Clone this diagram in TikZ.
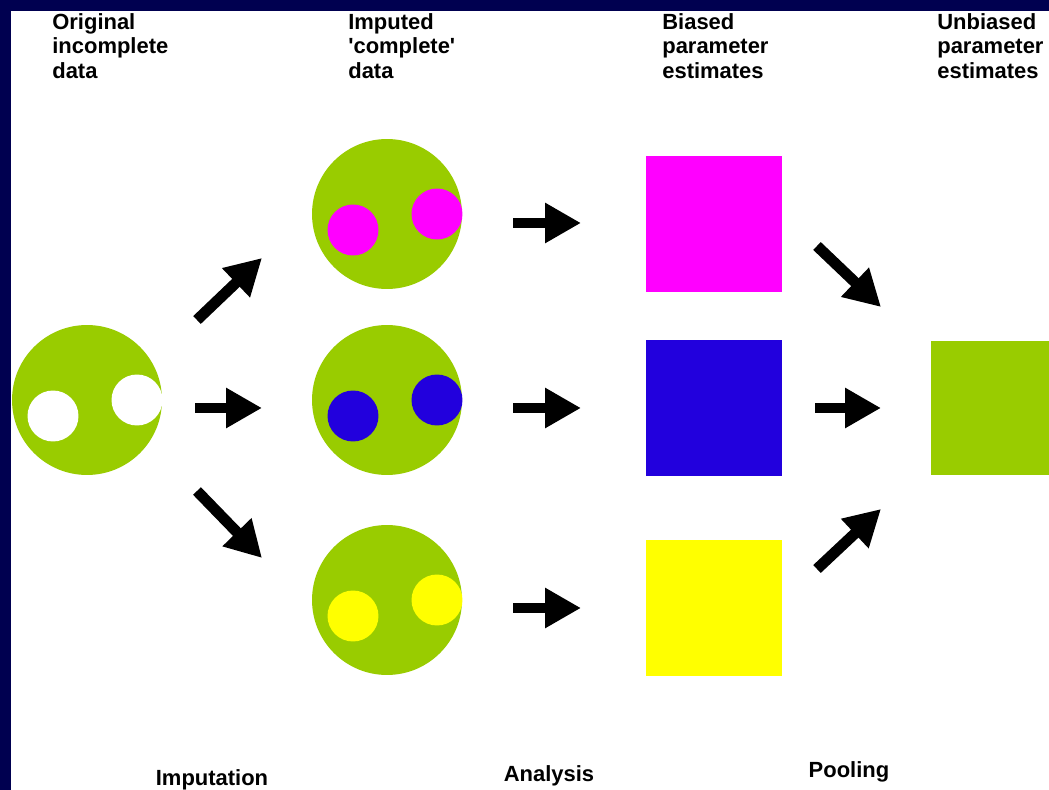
\documentclass[tikz,border=0pt]{standalone}
\usepackage{fontspec}
\setmainfont{Liberation Sans}
\usetikzlibrary{arrows.meta}
\definecolor{leaf}{HTML}{99CC00}
\definecolor{navyband}{HTML}{000050}
\definecolor{estpink}{HTML}{FF00FF}
\definecolor{estblue}{HTML}{2200DD}
\definecolor{estyellow}{HTML}{FFFF00}
\tikzset{
  dataset/.style={circle, fill=leaf, minimum size=3cm, inner sep=0pt},
  hole/.style={circle, minimum size=1.02cm, inner sep=0pt},
  estimate/.style={minimum size=2.72cm, inner sep=0pt},
  fatarrow/.style={line width=6.2pt, -{Triangle[length=0.72cm,width=0.76cm]}},
  heading/.style={anchor=north west, align=left, inner sep=0pt,
    font=\bfseries\fontsize{12.5}{14}\selectfont},
  stage/.style={anchor=base, inner sep=0pt, font=\bfseries\fontsize{12.5}{14}\selectfont}
}
\begin{document}
\begin{tikzpicture}[x=0.02cm, y=-0.02cm]
\useasboundingbox (0,0) rectangle (1049,790);
\fill[white] (0,0) rectangle (1049,790);
\fill[navyband] (0,0) rectangle (1049,11);
\fill[navyband] (0,0) rectangle (11,790);
% data sets
\node[dataset] (orig) at (87,400) {};
\node[dataset] (imp1) at (387,214) {};
\node[dataset] (imp2) at (387,400) {};
\node[dataset] (imp3) at (387,600) {};
\foreach \n/\c in {orig/white, imp1/estpink, imp2/estblue, imp3/estyellow} {
  \node[hole, fill=\c] (\n-l) at ([shift={(-34,16)}]\n.center) {};
  \node[hole, fill=\c] (\n-r) at ([shift={(50,0)}]\n.center) {};
}
% estimates
\node[estimate, fill=estpink] (est1) at (714,224) {};
\node[estimate, fill=estblue] (est2) at (714,408) {};
\node[estimate, fill=estyellow] (est3) at (714,608) {};
\node[fill=leaf, inner sep=0pt, minimum width=2.36cm, minimum height=2.7cm, anchor=west] (pooled) at (931,408) {};
% arrows
\foreach \n/\s/\e in {imputeA/{197,320}/{262,258}, imputeB/{195,408}/{262,408},
    imputeC/{197,491}/{262,558}, analyseA/{513,223}/{581,223},
    analyseB/{513,408}/{581,408}, analyseC/{513,608}/{581,608},
    poolA/{817,246}/{881,307}, poolB/{815,408}/{881,408}, poolC/{817,569}/{881,509}} {
  \coordinate (\n-s) at (\s);
  \coordinate (\n-e) at (\e);
  \draw[fatarrow] (\n-s) -- (\n-e);
}
% labels
\node[heading] (h-orig) at (52,13) {Original\\incomplete\\data};
\node[heading] (h-imp) at (348,13) {Imputed\\\textquotesingle complete\textquotesingle\\data};
\node[heading] (h-biased) at (662,13) {Biased\\parameter\\estimates};
\node[heading] (h-unbiased) at (937,13) {Unbiased\\parameter\\estimates};
\node[stage] (s-imp) at (212,786) {Imputation};
\node[stage] (s-ana) at (549,782) {Analysis};
\node[stage] (s-pool) at (849,777) {Pooling};
\end{tikzpicture}
\end{document}
